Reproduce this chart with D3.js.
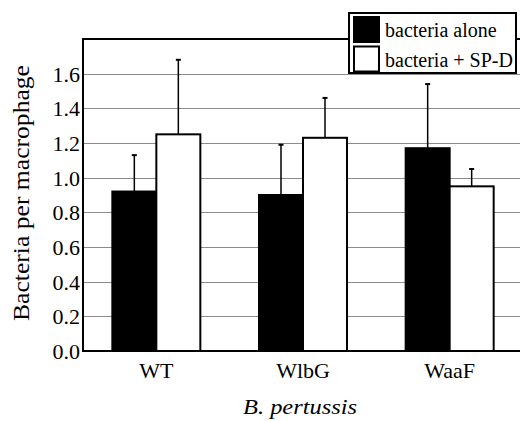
<!DOCTYPE html>
<html>
<head>
<meta charset="utf-8">
<script src="https://cdn.jsdelivr.net/npm/d3@7"></script>
<style>
  body { margin: 0; background: #fff; }
  svg { display: block; font-family: 'Liberation Serif', 'Times New Roman', serif; }
</style>
</head>
<body>
<div id="chart"></div>
<script>
// strains and series
const strains = ['WT', 'WlbG', 'WaaF'];
const seriesNames = ['bacteria alone', 'bacteria + SP-D'];
const aloneValues = [0.92, 0.90, 1.17];
const aloneErrors = [0.21, 0.29, 0.37];
const spdValues = [1.25, 1.23, 0.95];
const spdErrors = [0.43, 0.23, 0.10];
const yTicks = [0.0, 0.2, 0.4, 0.6, 0.8, 1.0, 1.2, 1.4, 1.6];

const width = 520, height = 421;
const margin = {top: 39, right: -3, bottom: 70, left: 83};
const serif = "'Liberation Serif', 'Times New Roman', serif";

const svg = d3.select('#chart').append('svg')
    .attr('width', width)
    .attr('height', height);

const x0 = d3.scaleBand()
    .domain(strains)
    .range([margin.left, width - margin.right]);

const x1 = d3.scaleBand()
    .domain([0, 1])
    .range([0, 88]);

const y = d3.scaleLinear()
    .domain([0, 1.8])
    .range([height - margin.bottom, margin.top]);

// gridlines
svg.append('g')
    .selectAll('line')
    .data(yTicks.slice(1))
    .join('line')
    .attr('x1', margin.left)
    .attr('x2', width)
    .attr('y1', d => Math.round(y(d)) + 0.5)
    .attr('y2', d => Math.round(y(d)) + 0.5)
    .attr('stroke', '#8c8c8c')
    .attr('stroke-width', 1);

// top border
svg.append('line')
    .attr('x1', margin.left).attr('x2', width)
    .attr('y1', y(1.8)).attr('y2', y(1.8))
    .attr('stroke', '#000').attr('stroke-width', 2);

const data = strains.map((s, i) => ({
    strain: s,
    bars: [
        {k: 0, v: aloneValues[i], e: aloneErrors[i]},
        {k: 1, v: spdValues[i], e: spdErrors[i]}
    ]
}));

const groups = svg.append('g')
    .selectAll('g.group')
    .data(data)
    .join('g')
    .attr('class', 'group')
    .attr('transform', d => 'translate(' + (x0(d.strain) + x0.bandwidth() / 2 - 44) + ',0)');

// error bars (upward only)
groups.selectAll('line.err')
    .data(d => d.bars)
    .join('line')
    .attr('class', 'err')
    .attr('x1', d => x1(d.k) + x1.bandwidth() / 2)
    .attr('x2', d => x1(d.k) + x1.bandwidth() / 2)
    .attr('y1', d => y(d.v))
    .attr('y2', d => y(d.v + d.e))
    .attr('stroke', '#000')
    .attr('stroke-width', 1.5);

groups.selectAll('line.cap')
    .data(d => d.bars)
    .join('line')
    .attr('class', 'cap')
    .attr('x1', d => x1(d.k) + x1.bandwidth() / 2 - 2.5)
    .attr('x2', d => x1(d.k) + x1.bandwidth() / 2 + 2.5)
    .attr('y1', d => y(d.v + d.e))
    .attr('y2', d => y(d.v + d.e))
    .attr('stroke', '#000')
    .attr('stroke-width', 2);

groups.selectAll('rect')
    .data(d => d.bars)
    .join('rect')
    .attr('x', d => x1(d.k))
    .attr('y', d => y(d.v))
    .attr('width', x1.bandwidth())
    .attr('height', d => y(0) - y(d.v))
    .attr('fill', d => d.k === 0 ? '#000' : '#fff')
    .attr('stroke', '#000')
    .attr('stroke-width', 2);

// axes
const yAxis = svg.append('g')
    .attr('transform', 'translate(' + margin.left + ',0)')
    .call(d3.axisLeft(y).tickValues(yTicks).tickFormat(d3.format('.1f')).tickSize(0).tickPadding(3));
yAxis.select('.domain').remove();
yAxis.selectAll('text')
    .attr('font-family', serif)
    .attr('font-size', 22)
    .attr('dy', '0.34em')
    .attr('fill', '#000');

svg.append('line')
    .attr('x1', margin.left).attr('x2', margin.left)
    .attr('y1', y(1.8) - 1).attr('y2', y(0) + 1)
    .attr('stroke', '#000').attr('stroke-width', 2);

svg.append('line')
    .attr('x1', margin.left - 1).attr('x2', width)
    .attr('y1', y(0)).attr('y2', y(0))
    .attr('stroke', '#000').attr('stroke-width', 2);

const xAxis = svg.append('g')
    .attr('transform', 'translate(0,' + y(0) + ')')
    .call(d3.axisBottom(x0).tickSize(0).tickPadding(0));
xAxis.select('.domain').remove();
xAxis.selectAll('text')
    .attr('font-family', serif)
    .attr('font-size', 22)
    .attr('y', 27)
    .attr('dy', 0)
    .attr('fill', '#000');

// axis titles
svg.append('text')
    .attr('transform', 'translate(29,193) rotate(-90)')
    .attr('text-anchor', 'middle')
    .attr('font-size', 23)
    .attr('textLength', 256)
    .attr('lengthAdjust', 'spacingAndGlyphs')
    .text('Bacteria per macrophage');

svg.append('text')
    .attr('x', 300)
    .attr('y', 414)
    .attr('text-anchor', 'middle')
    .attr('font-size', 22)
    .attr('font-style', 'italic')
    .attr('textLength', 114)
    .attr('lengthAdjust', 'spacingAndGlyphs')
    .text('B. pertussis');

// legend
const legend = svg.append('g').attr('transform', 'translate(349,13)');
legend.append('rect')
    .attr('width', 167).attr('height', 60)
    .attr('fill', '#fff').attr('stroke', '#000').attr('stroke-width', 2);

const items = legend.selectAll('g.item')
    .data(seriesNames)
    .join('g')
    .attr('class', 'item')
    .attr('transform', (d, i) => 'translate(5,' + (4 + i * 29.5) + ')');
items.append('rect')
    .attr('width', 25).attr('height', 25)
    .attr('fill', (d, i) => i === 0 ? '#000' : '#fff')
    .attr('stroke', '#000').attr('stroke-width', 2);
items.append('text')
    .attr('x', 31).attr('y', 20)
    .attr('font-size', 20)
    .text(d => d);
</script>
</body>
</html>
